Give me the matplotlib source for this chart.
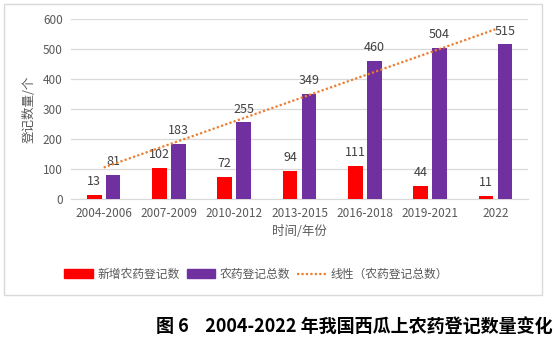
import numpy as np
import matplotlib
matplotlib.use("Agg")
import matplotlib.pyplot as plt
from matplotlib.patches import Rectangle, Patch
from matplotlib.lines import Line2D

plt.rcParams['font.family'] = ['Noto Sans CJK SC', 'DejaVu Sans']

periods = ["2004-2006", "2007-2009", "2010-2012", "2013-2015", "2016-2018", "2019-2021", "2022"]
new_reg = [13, 102, 72, 94, 111, 44, 11]
total_reg = [81, 183, 255, 349, 460, 504, 515]

GRAY = "#595959"
RED = "#FF0000"
PURPLE = "#7030A0"
ORANGE = "#ED7D31"

fig = plt.figure(figsize=(5.57, 3.44), dpi=100)
ax = fig.add_axes([0.1275, 0.4215, 0.8205, 0.5233])

x = np.arange(len(periods))
w = 0.225
ax.bar(x - 0.145, new_reg, w, color=RED, zorder=3)
ax.bar(x + 0.145, total_reg, w, color=PURPLE, zorder=3)

# linear trendline on the totals
k, b = np.polyfit(x, total_reg, 1)
ax.plot(x, k * x + b, color=ORANGE, ls=(0, (1, 1)), lw=1.6, zorder=4)

for xi, v in zip(x, new_reg):
    ax.annotate(str(v), (xi - 0.145, v), xytext=(0, 5), textcoords="offset points",
                ha="center", va="bottom", fontsize=9, color="#404040")
for xi, v in zip(x, total_reg):
    ax.annotate(str(v), (xi + 0.145, v), xytext=(0, 5), textcoords="offset points",
                ha="center", va="bottom", fontsize=9, color="#404040")

ax.set_xlim(-0.5, 6.5)
ax.set_ylim(0, 600)
ax.set_yticks(range(0, 601, 100))
ax.set_xticks(x)
ax.set_xticklabels(periods)
ax.tick_params(axis="both", length=0, labelsize=8.5, colors=GRAY, pad=6)
ax.grid(axis="y", color="#D9D9D9", lw=0.9, zorder=0)
for s in ["top", "right", "left"]:
    ax.spines[s].set_visible(False)
ax.spines["bottom"].set_color("#D9D9D9")
ax.set_xlabel("时间/年份", fontsize=9, color=GRAY, labelpad=3)
ax.set_ylabel("登记数量/个", fontsize=9, color=GRAY, labelpad=5)

handles = [Patch(color=RED), Patch(color=PURPLE),
           Line2D([0], [0], color=ORANGE, ls=(0, (1, 1)), lw=1.6)]
labels = ["新增农药登记数", "农药登记总数", "线性（农药登记总数）"]
fig.legend(handles, labels, loc="center", bbox_to_anchor=(0.46, 0.203), ncol=3,
           frameon=False, fontsize=8.5, labelcolor=GRAY, handlelength=2.4,
           handleheight=0.7, handletextpad=0.4, columnspacing=0.6)

fig.patches.append(Rectangle((0.0072, 0.1424), 0.966, 0.846, transform=fig.transFigure,
                             fill=False, edgecolor="#D9D9D9", lw=1))

fig.text(0.993, 0.05, "图 6    2004-2022 年我国西瓜上农药登记数量变化", ha="right", va="center",
         fontsize=13, fontweight="bold", color="black")

fig.savefig("out.png", dpi=100)
